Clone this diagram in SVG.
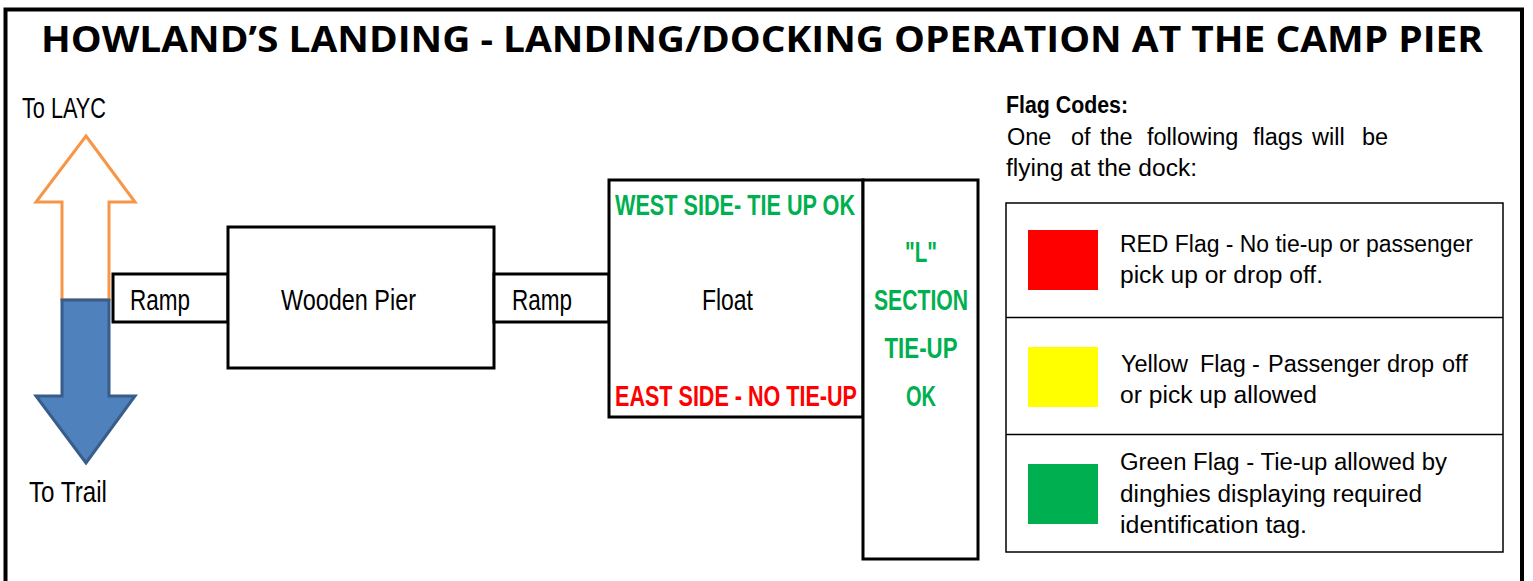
<svg xmlns="http://www.w3.org/2000/svg" width="1533" height="581" viewBox="0 0 1533 581">
<style>
  .box { fill: #ffffff; stroke: #000000; stroke-width: 3; }
  .lbl { font-family: "Liberation Sans", Arial, sans-serif; font-size: 29px; fill: #000000; }
  .bg { font-family: "Liberation Sans", Arial, sans-serif; font-size: 29px; font-weight: bold; fill: #00B050; }
  .br { font-family: "Liberation Sans", Arial, sans-serif; font-size: 29px; font-weight: bold; fill: #FF0000; }
  .leg { font-family: "Liberation Sans", Arial, sans-serif; font-size: 23.5px; fill: #000000; }
  .tbl { fill: #ffffff; stroke: #000000; stroke-width: 1.5; }
</style>
<rect x="0" y="0" width="1533" height="581" fill="#ffffff"/>
<path d="M5.5,585 L5.5,9.5 L1522,9.5 L1522,585" fill="none" stroke="#000000" stroke-width="4"/>

<text x="762" y="52" text-anchor="middle" font-family="'Open Sans', 'Liberation Sans', sans-serif" font-weight="bold" font-size="35" textLength="1442" lengthAdjust="spacingAndGlyphs" fill="#000000">HOWLAND’S LANDING - LANDING/DOCKING OPERATION AT THE CAMP PIER</text>

<g id="arrows">
  <g id="to-layc">
    <path d="M86,136 L135,202 L109,202 L109,300 L62,300 L62,202 L36,202 Z" fill="#ffffff" stroke="#F79646" stroke-width="3" stroke-linejoin="miter"/>
    <text class="lbl" x="22" y="118" textLength="84" lengthAdjust="spacingAndGlyphs">To LAYC</text>
  </g>
  <g id="to-trail">
    <path d="M62,300 L109,300 L109,396 L135,396 L86,463 L36,396 L62,396 Z" fill="#4F81BD" stroke="#385D8A" stroke-width="3" stroke-linejoin="miter"/>
    <text class="lbl" x="29" y="502" textLength="78" lengthAdjust="spacingAndGlyphs">To Trail</text>
  </g>
</g>

<g id="connectors"></g>

<g id="ramp1">
  <rect class="box" x="113" y="274" width="115" height="48"/>
  <text class="lbl" x="130" y="310" textLength="60" lengthAdjust="spacingAndGlyphs">Ramp</text>
</g>
<g id="wooden-pier">
  <rect class="box" x="228" y="227" width="266" height="141"/>
  <text class="lbl" x="281" y="310" textLength="135" lengthAdjust="spacingAndGlyphs">Wooden Pier</text>
</g>
<g id="ramp2">
  <rect class="box" x="494" y="274" width="115" height="48"/>
  <text class="lbl" x="512" y="310" textLength="60" lengthAdjust="spacingAndGlyphs">Ramp</text>
</g>
<g id="float">
  <rect class="box" x="609" y="180" width="254" height="237"/>
  <text class="bg" x="615" y="215" textLength="240" lengthAdjust="spacingAndGlyphs">WEST SIDE- TIE UP OK</text>
  <text class="lbl" x="702" y="310" textLength="51" lengthAdjust="spacingAndGlyphs">Float</text>
  <text class="br" x="615" y="406" textLength="242" lengthAdjust="spacingAndGlyphs">EAST SIDE - NO TIE-UP</text>
</g>
<g id="l-section">
  <rect class="box" x="863" y="180" width="115" height="379"/>
  <text class="bg" x="921" y="262" text-anchor="middle" textLength="32" lengthAdjust="spacingAndGlyphs">"L"</text>
  <text class="bg" x="921" y="310" text-anchor="middle" textLength="94" lengthAdjust="spacingAndGlyphs">SECTION</text>
  <text class="bg" x="921" y="358" text-anchor="middle" textLength="73" lengthAdjust="spacingAndGlyphs">TIE-UP</text>
  <text class="bg" x="921" y="406" text-anchor="middle" textLength="30" lengthAdjust="spacingAndGlyphs">OK</text>
</g>

<g id="flag-codes">
  <text class="leg" x="1006" y="113" font-weight="bold" textLength="122" lengthAdjust="spacingAndGlyphs">Flag Codes:</text>
  <text class="leg" y="145"><tspan x="1007">One</tspan> <tspan x="1071">of</tspan> <tspan x="1100">the</tspan> <tspan x="1147">following</tspan> <tspan x="1253">flags</tspan> <tspan x="1312">will</tspan> <tspan x="1362">be</tspan></text>
  <text class="leg" x="1006" y="176" textLength="191" lengthAdjust="spacingAndGlyphs">flying at the dock:</text>
</g>

<g id="legend-table">
  <rect class="tbl" x="1006" y="203" width="497" height="349"/>
  <line x1="1006" y1="317.5" x2="1503" y2="317.5" stroke="#000000" stroke-width="1.5"/>
  <line x1="1006" y1="434.5" x2="1503" y2="434.5" stroke="#000000" stroke-width="1.5"/>
</g>
<g id="red-flag">
  <rect x="1028" y="230" width="70" height="60" fill="#FF0000"/>
  <text class="leg" x="1120" y="252" textLength="353" lengthAdjust="spacingAndGlyphs">RED Flag - No tie-up or passenger</text>
  <text class="leg" x="1120" y="283" textLength="203" lengthAdjust="spacingAndGlyphs">pick up or drop off.</text>
</g>
<g id="yellow-flag">
  <rect x="1028" y="347" width="70" height="60" fill="#FFFF00"/>
  <text class="leg" y="372"><tspan x="1121">Yellow</tspan> <tspan x="1200">Flag</tspan> <tspan x="1252">-</tspan> <tspan x="1268">Passenger</tspan> <tspan x="1387">drop</tspan> <tspan x="1442">off</tspan></text>
  <text class="leg" x="1120" y="403" textLength="197" lengthAdjust="spacingAndGlyphs">or pick up allowed</text>
</g>
<g id="green-flag">
  <rect x="1028" y="464" width="70" height="60" fill="#00B050"/>
  <text class="leg" x="1120" y="470" textLength="327" lengthAdjust="spacingAndGlyphs">Green Flag - Tie-up allowed by</text>
  <text class="leg" x="1120" y="502" textLength="302" lengthAdjust="spacingAndGlyphs">dinghies displaying required</text>
  <text class="leg" x="1120" y="533" textLength="187" lengthAdjust="spacingAndGlyphs">identification tag.</text>
</g>
</svg>
